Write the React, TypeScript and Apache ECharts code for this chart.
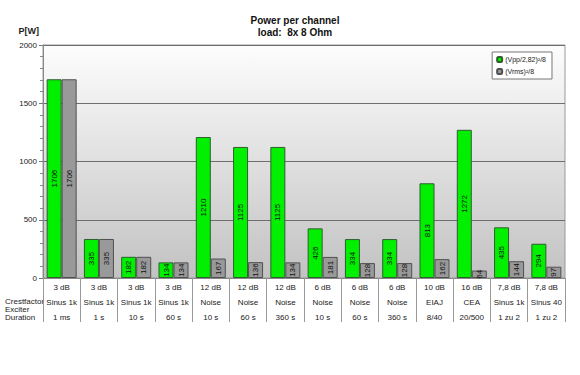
import React, { useEffect, useRef } from "react";
import * as echarts from "echarts";

const crestfactor = ["3 dB", "3 dB", "3 dB", "3 dB", "12 dB", "12 dB", "12 dB", "6 dB", "6 dB", "6 dB", "10 dB", "16 dB", "7,8 dB", "7,8 dB"];
const exciter = ["Sinus 1k", "Sinus 1k", "Sinus 1k", "Sinus 1k", "Noise", "Noise", "Noise", "Noise", "Noise", "Noise", "EIAJ", "CEA", "Sinus 1k", "Sinus 40"];
const duration = ["1 ms", "1 s", "10 s", "60 s", "10 s", "60 s", "360 s", "10 s", "60 s", "360 s", "8/40", "20/500", "1 zu 2", "1 zu 2"];
const vppPower = [1706, 335, 182, 134, 1210, 1125, 1125, 426, 334, 334, 813, 1272, 435, 294];
const vrmsPower = [1706, 335, 182, 134, 167, 136, 134, 181, 128, 128, 162, 64, 144, 97];
const seriesNames = ["(Vpp/2,82)²/8", "(Vrms)²/8"];
const yTicks = [0, 500, 1000, 1500, 2000];

const FONT = "'Liberation Sans', Arial, sans-serif";

export default function App() {
  const ref = useRef<HTMLDivElement>(null);
  useEffect(() => {
    if (!ref.current) return;
    const chart = echarts.init(ref.current, null, { renderer: "svg" });
    const categories = crestfactor.map((c, i) => `${c}\n${exciter[i]}\n${duration[i]}`);
    const barLabel = {
      show: true,
      position: "inside" as const,
      rotate: 90,
      fontSize: 8,
      fontFamily: FONT,
      color: "#111",
    };
    chart.setOption({
      animation: false,
      textStyle: { fontFamily: FONT },
      title: {
        text: "Power per channel\nload:  8x 8 Ohm",
        left: 290,
        textAlign: "center",
        top: 9,
        textStyle: { fontSize: 10, fontWeight: "bold", color: "#111", lineHeight: 12, fontFamily: FONT },
      },
      legend: {
        orient: "vertical",
        right: 28,
        top: 52,
        itemWidth: 5,
        itemHeight: 5,
        itemGap: 5,
        padding: [4, 6, 4, 4],
        backgroundColor: "#fff",
        borderColor: "#777",
        borderWidth: 1,
        textStyle: { fontSize: 7, color: "#222", fontFamily: FONT, padding: [0, 0, 0, -2] },
        data: seriesNames,
      },
      grid: {
        left: 43,
        right: 15,
        top: 45,
        bottom: 97,
        show: true,
        borderWidth: 1,
        borderColor: "#999",
        backgroundColor: new echarts.graphic.LinearGradient(0, 0, 0, 1, [
          { offset: 0, color: "#fdfdfd" },
          { offset: 1, color: "#c2c2c2" },
        ]),
      },
      xAxis: {
        type: "category",
        data: categories,
        axisLine: { show: true, lineStyle: { color: "#888" } },
        axisTick: { show: true, interval: 0, length: 44, lineStyle: { color: "#999" } },
        axisLabel: {
          interval: 0,
          fontSize: 8,
          color: "#222",
          lineHeight: 15,
          margin: 2,
          fontFamily: FONT,
        },
      },
      yAxis: {
        type: "value",
        min: yTicks[0],
        max: yTicks[yTicks.length - 1],
        interval: 500,
        name: "P[W]",
        nameLocation: "end",
        nameGap: 10,
        nameTextStyle: { fontSize: 9, color: "#222", fontWeight: "bold", align: "right", padding: [0, 4, 0, 0] },
        axisLine: { show: true, lineStyle: { color: "#888" } },
        axisTick: { show: true, length: 4, lineStyle: { color: "#777" } },
        minorTick: { show: true, splitNumber: 5, length: 3, lineStyle: { color: "#888" } },
        axisLabel: { fontSize: 8, color: "#222", margin: 6, fontFamily: FONT, formatter: (v: number) => String(v) },
        splitLine: { show: true, lineStyle: { color: "#6e6e6e", width: 1 } },
      },
      series: [
        {
          name: seriesNames[0],
          type: "bar",
          data: vppPower,
          barWidth: 15,
          barGap: "0%",
          itemStyle: { color: "#00f000", borderColor: "#2e5e2e", borderWidth: 1 },
          label: barLabel,
        },
        {
          name: seriesNames[1],
          type: "bar",
          data: vrmsPower,
          barWidth: 15,
          barGap: "0%",
          itemStyle: { color: "#999999", borderColor: "#505050", borderWidth: 1 },
          label: barLabel,
        },
      ],
      graphic: [
        { type: "text", left: 5, top: 297, style: { text: "Crestfactor", fontSize: 8, fill: "#222", fontFamily: FONT } },
        { type: "text", left: 5, top: 305, style: { text: "Exciter", fontSize: 8, fill: "#222", fontFamily: FONT } },
        { type: "text", left: 5, top: 313, style: { text: "Duration", fontSize: 8, fill: "#222", fontFamily: FONT } },
      ],
    });
    return () => chart.dispose();
  }, []);
  return <div ref={ref} style={{ position: "absolute", left: 0, top: 0, width: 580, height: 375 }} />;
}
